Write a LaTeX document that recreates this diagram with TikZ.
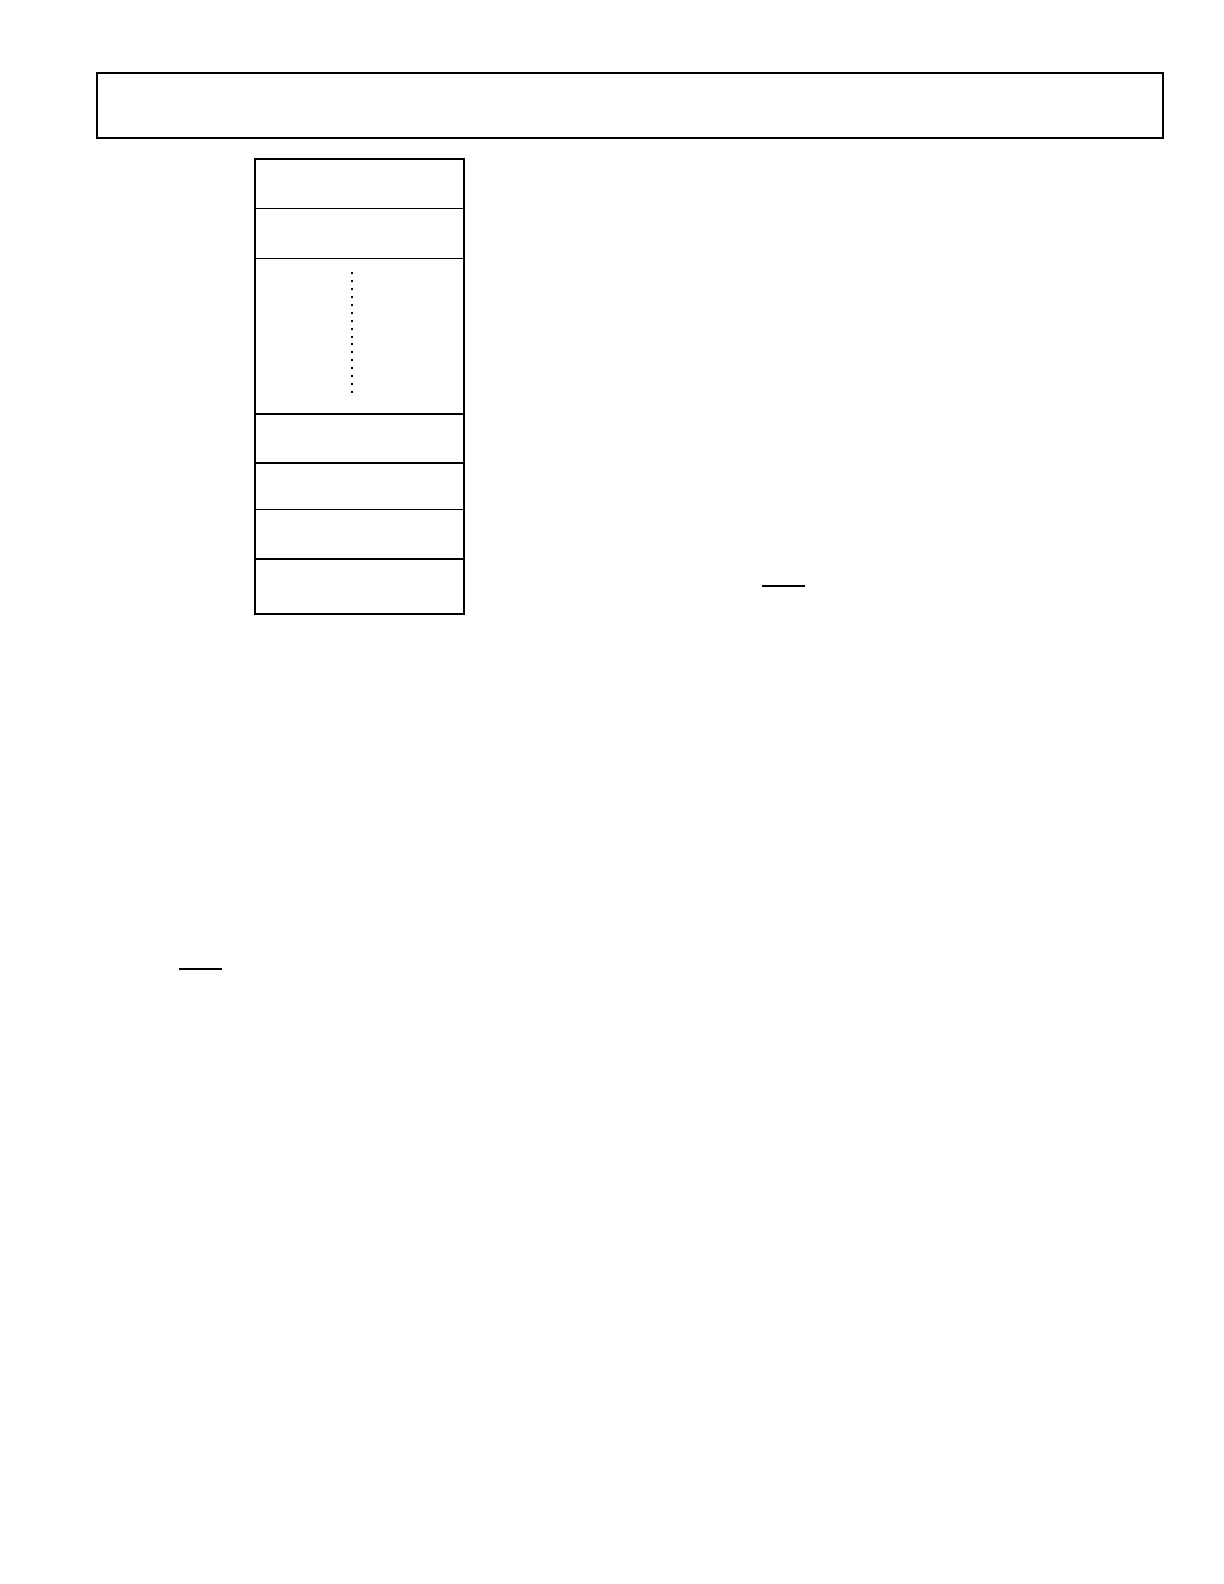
\documentclass[tikz,border=0pt]{standalone}
\begin{document}
\begin{tikzpicture}[x=0.5pt,y=-0.5pt,
  cell/.style={draw=black, line width=0.5pt, rectangle, inner sep=0pt, outer sep=0pt, minimum width=104.5pt, anchor=north west},
  thick rule/.style={line width=1pt},
  thin rule/.style={line width=0.6pt},
  dotline/.style={line width=1pt, dash pattern=on 1pt off 2.97pt}]
\useasboundingbox[fill=white] (0,0) rectangle (1224,1584);
% top banner
\node[draw=black, line width=0.8pt, rectangle, inner sep=0pt, outer sep=0pt, minimum width=533pt, minimum height=32.5pt, anchor=north west] (banner) at (97,73) {};
\draw[line width=1.3pt] (banner.south west) -- (banner.south east);
% column cells
\node[cell, minimum height=24.65pt] (c1) at (255,159) {};
\node[cell, minimum height=25pt] (c2) at (255,208.3) {};
\node[cell, minimum height=77.85pt] (c3) at (255,258.3) {};
\node[cell, minimum height=24.35pt] (c4) at (255,414) {};
\node[cell, minimum height=23.3pt] (c5) at (255,462.7) {};
\node[cell, minimum height=24.7pt] (c6) at (255,509.3) {};
\node[cell, minimum height=27.65pt] (c7) at (255,558.7) {};
% heavier outline and dividers
\draw[thick rule] (c1.north west) rectangle (c7.south east);
\draw[thick rule] (c4.north west) -- (c4.north east);
\draw[thick rule] (c5.north west) -- (c5.north east);
\draw[thick rule] (c7.north west) -- (c7.north east);
% dotted line inside third cell
\coordinate (d1) at (351.5,272);
\coordinate (d2) at (351.5,393);
\draw[dotline] (d1) -- (d2);
% short rules
\coordinate (r1a) at (762,585.5);
\coordinate (r1b) at (805,585.5);
\draw[line width=1pt] (r1a) -- (r1b);
\coordinate (r2a) at (179,969);
\coordinate (r2b) at (221.5,969);
\draw[line width=1pt] (r2a) -- (r2b);
\end{tikzpicture}
\end{document}
